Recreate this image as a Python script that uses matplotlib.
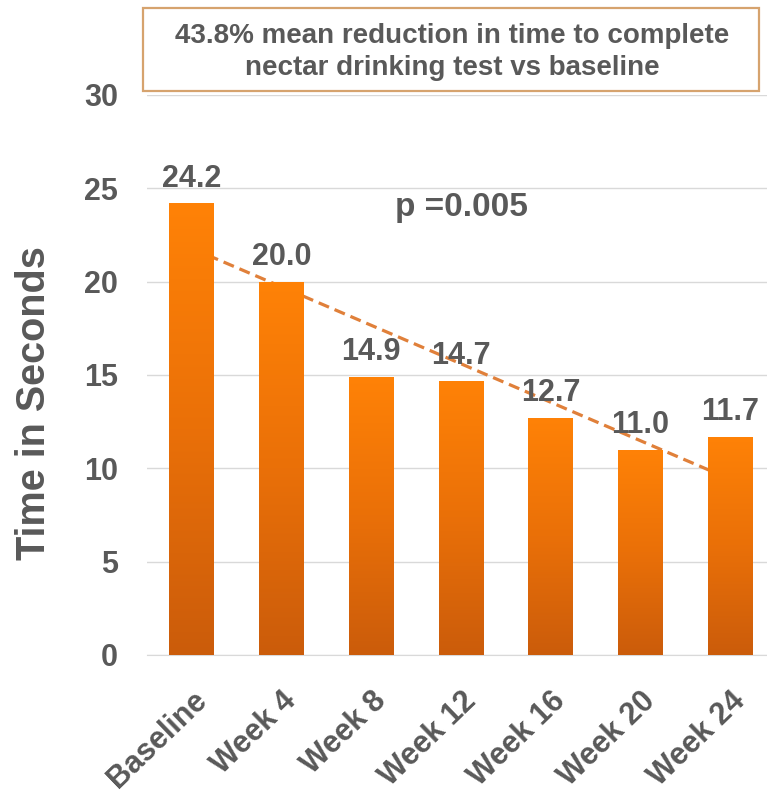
import matplotlib.pyplot as plt
import numpy as np
from matplotlib.colors import LinearSegmentedColormap
from matplotlib.patches import Rectangle

# Data
categories = ['Baseline', 'Week 4', 'Week 8', 'Week 12', 'Week 16', 'Week 20', 'Week 24']
times = [24.2, 20.0, 14.9, 14.7, 12.7, 11.0, 11.7]
yticks = [0, 5, 10, 15, 20, 25, 30]
title_text = '43.8% mean reduction in time to complete\nnectar drinking test vs baseline'
p_text = 'p =0.005'

plt.rcParams['font.family'] = ['Liberation Sans', 'DejaVu Sans']
grey = '#595959'

fig = plt.figure(figsize=(7.67, 7.94), dpi=100)
ax = fig.add_axes([147 / 767, 139 / 794, 620 / 767, 560 / 794])

x = np.arange(len(categories))
width = 0.5
bars = ax.bar(x, times, width=width, color='none', edgecolor='none', zorder=3)

# vertical gradient in each bar, bright on top, darker at the base
cmap = LinearSegmentedColormap.from_list('bar', ['#CB5C0B', '#EA7008', '#FF8206'])
grad = np.linspace(0, 1, 256).reshape(-1, 1)
for b in bars:
    x0, w, h = b.get_x(), b.get_width(), b.get_height()
    im = ax.imshow(grad, cmap=cmap, origin='lower', aspect='auto',
                   extent=[x0, x0 + w, 0, h], zorder=3)
    im.set_clip_path(Rectangle((x0, 0), w, h, transform=ax.transData))

# linear trend line, drawn behind the bars
slope, intercept = np.polyfit(x, times, 1)
ax.plot(x, slope * x + intercept, color='#E0803A', lw=2.3,
        ls=(0, (3.5, 1.9)), zorder=2)

for xi, v in zip(x, times):
    ax.annotate(f'{v:.1f}', (xi, v), xytext=(0, 7), textcoords='offset points',
                ha='center', va='bottom', fontsize=22, fontweight='bold', color=grey)

ax.text(3.0, 23.95, p_text, ha='center', va='center', fontsize=24,
        fontweight='bold', color=grey)

ax.set_xlim(-0.5, 6.41)
ax.set_ylim(0, 30)
ax.set_yticks(yticks)
ax.set_xticks(x)
ax.set_xticklabels(categories, rotation=44, ha='right', rotation_mode='anchor')
ax.tick_params(axis='both', length=0, labelcolor=grey)
ax.tick_params(axis='y', pad=21, labelsize=22)
ax.tick_params(axis='x', pad=22, labelsize=22)
for lab in ax.get_xticklabels() + ax.get_yticklabels():
    lab.set_fontweight('bold')
ax.set_ylabel('Time in Seconds', fontsize=28.5, fontweight='bold', color=grey)
ax.yaxis.set_label_coords(-0.152, 0.449)
ax.grid(axis='y', color='#D9D9D9', lw=1, zorder=0)
ax.set_axisbelow(True)
for s in ['top', 'right', 'left']:
    ax.spines[s].set_visible(False)
ax.spines['bottom'].set_color('#D9D9D9')

# headline box
fig.patches.append(Rectangle((143 / 767, 1 - 91 / 794), 616 / 767, 83 / 794,
                             transform=fig.transFigure, facecolor='white',
                             edgecolor='#D6A36E', lw=1.6))
fig.text(452 / 767, 1 - 52 / 794, title_text, ha='center', va='center',
         fontsize=20, fontweight='bold', color=grey, linespacing=1.3)

plt.savefig('out.png', dpi=100)
